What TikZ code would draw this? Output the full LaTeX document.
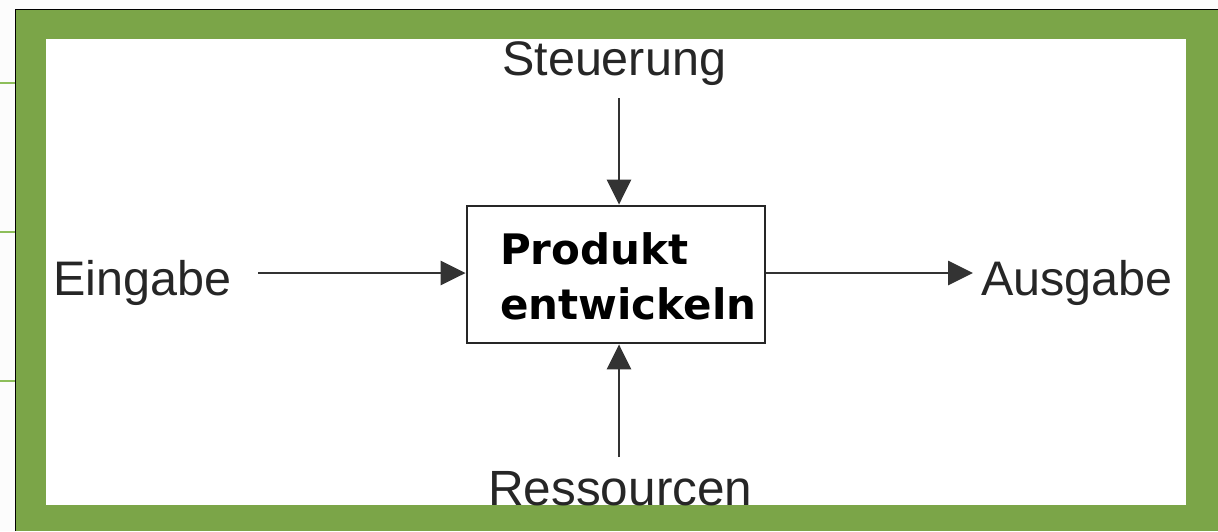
\documentclass[tikz,border=0pt]{standalone}
\usepackage{fontspec}
\setmainfont{Liberation Sans}
\newfontfamily\boxfont{DejaVu Sans}
\usetikzlibrary{arrows.meta}
\definecolor{framegreen}{HTML}{7BA548}
\definecolor{stripgreen}{HTML}{8DBE5A}
\definecolor{inkgray}{HTML}{262626}
\definecolor{linegray}{HTML}{333333}
\tikzset{
  lbl/.style={inner sep=0pt, anchor=base west, text=inkgray, font=\fontsize{48.5}{58}\selectfont},
  boxlbl/.style={inner sep=0pt, anchor=base west, text=black, font=\boxfont\bfseries\fontsize{42}{50}\selectfont},
  procbox/.style={draw=inkgray, line width=2.8pt, fill=white, minimum width=298pt, minimum height=137pt, inner sep=0pt},
  arr/.style={draw=linegray, line width=2.8pt, -{Triangle[length=25pt,width=24pt]}},
}
\begin{document}
\begin{tikzpicture}[x=1pt,y=-1pt]
\useasboundingbox (0,0) rectangle (1218,531);
% background strip and frame
\fill[white!98!gray] (0,0) rectangle (1218,531);
\foreach \yy in {83,232,381} \draw[stripgreen, line width=2.5pt] (0,\yy) -- (15,\yy);
\fill[framegreen] (15,9) rectangle (1218,531);
\draw[black, line width=1pt] (15,531) -- (15,9) -- (1218,9);
\fill[white] (46,39) rectangle (1186,505);
% process box
\node[procbox] (box) at (616,274.5) {};
\node[boxlbl] (t1) at (500,264) {Produkt};
\node[boxlbl] (t2) at (500,319) {entwickeln};
% labels
\node[lbl] (steu) at (502,75) {Steuerung};
\node[lbl] (eing) at (53,295) {Eingabe};
\node[lbl] (ausg) at (981,295) {Ausgabe};
\node[lbl, font=\fontsize{49.5}{58}\selectfont] (ress) at (488,505) {Ressourcen};
% connector end points
\coordinate (sT) at (619,98);
\coordinate (eS) at (258,273);
\coordinate (aE) at (973,273);
\coordinate (rS) at (619,457);
% connectors
\draw[arr] (sT) -- (sT |- box.north);
\draw[arr] (eS) -- (eS -| box.west);
\draw[arr] (aE -| box.east) -- (aE);
\draw[arr] (rS) -- (rS |- box.south);
\end{tikzpicture}
\end{document}
